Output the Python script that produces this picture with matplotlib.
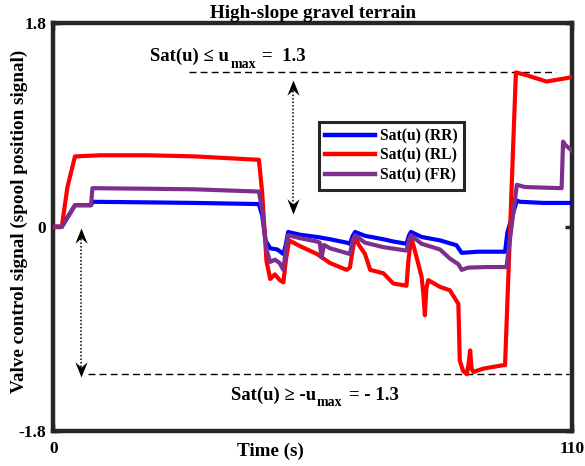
import matplotlib
matplotlib.use("Agg")
import matplotlib.pyplot as plt
from matplotlib.path import Path

plt.rcParams['font.family'] = ['Liberation Serif', 'DejaVu Serif']
plt.rcParams['font.weight'] = 'bold'

# ---------------- data ----------------
t_rr = [0, 1.8, 4.6, 8.0, 8.3, 20, 30, 43.6, 44.3, 45.0, 46.0, 47.5, 48.8, 49.3, 49.8,
        52.3, 55.9, 58.7, 62.2, 62.9, 63.5, 64.0, 66.1, 70.0, 72.1, 74.9, 75.4, 75.85,
        78.1, 82.0, 85.5, 86.6, 90, 95.8, 96.3, 98.3, 99, 104, 110]
v_rr = [0, 0, 0.19, 0.19, 0.22, 0.215, 0.21, 0.20, 0.10, -0.12, -0.19, -0.20, -0.24, -0.16, -0.046,
        -0.07, -0.09, -0.11, -0.14, -0.15, -0.08, -0.046, -0.08, -0.11, -0.13, -0.15, -0.08, -0.046,
        -0.09, -0.12, -0.163, -0.23, -0.22, -0.22, -0.05, 0.23, 0.22, 0.21, 0.21]

t_rl = [0, 1.8, 3.0, 4.6, 10, 20, 30, 43.6, 44.3, 45.2, 46.0, 47.0, 48.0, 48.8, 49.3, 50.0,
        52.3, 55.9, 58.7, 62.2, 62.9, 63.5, 64.0, 64.8, 66.1, 67.2, 70.0, 72.1, 74.9, 75.3,
        75.9, 77.05, 78.1, 78.5, 78.8, 79.1, 79.5, 82.0, 84.1, 85.9, 86.2, 86.9, 87.7, 88.1,
        88.4, 88.7, 89.1, 91.2, 95.4, 95.8, 98.1, 100, 104.6, 108.9, 110]
v_rl = [0, 0, 0.35, 0.62, 0.63, 0.63, 0.62, 0.59, 0.30, -0.30, -0.46, -0.42, -0.47, -0.49, -0.30, -0.12,
        -0.17, -0.24, -0.32, -0.38, -0.36, -0.20, -0.09, -0.16, -0.24, -0.38, -0.41, -0.50, -0.52, -0.30,
        -0.09, -0.27, -0.44, -0.60, -0.78, -0.55, -0.47, -0.53, -0.56, -0.68, -1.18, -1.27, -1.30, -1.20,
        -1.09, -1.25, -1.28, -1.25, -1.22, -1.22, 1.36, 1.34, 1.28, 1.31, 1.32]

t_fr = [0, 1.8, 4.6, 8.0, 8.3, 20, 30, 43.6, 44.3, 45.2, 46.0, 47.0, 48.0, 48.8, 49.3, 49.8,
        52.3, 55.9, 56.5, 56.9, 57.4, 58.7, 62.9, 63.5, 64.0, 66.1, 70.0, 74.9, 75.4, 75.85,
        78.1, 82.0, 84.1, 85.9, 86.6, 88, 92, 96.1, 98.3, 100, 107.8, 108.1, 108.6, 110]
v_fr = [0, 0, 0.19, 0.19, 0.34, 0.335, 0.33, 0.31, 0.15, -0.20, -0.31, -0.29, -0.32, -0.38, -0.20, -0.075,
        -0.10, -0.13, -0.14, -0.27, -0.16, -0.19, -0.24, -0.12, -0.075, -0.14, -0.18, -0.21, -0.12, -0.075,
        -0.15, -0.20, -0.28, -0.33, -0.38, -0.36, -0.355, -0.355, 0.37, 0.35, 0.34, 0.75, 0.72, 0.67]

series_labels = ['Sat(u) (RR)', 'Sat(u) (RL)', 'Sat(u) (FR)']
series_colors = ['#0000FF', '#FF0000', '#7E2F8E']

u_max_upper = 1.366
u_max_lower = -1.30
upper_line_t = [28.8, 106.5]
lower_line_t = [7.4, 109.3]
upper_arrow = (50.8, 0.11, 1.29)    # t, from, to
lower_arrow = (5.8, -0.013, -1.32)

upper_text = ['Sat(u) ≤ u', 'max', '=  1.3']
lower_text = ['Sat(u) ≥ -u', 'max', '= - 1.3']

x_ticks = [0, 110]
y_ticks = [-1.8, 0, 1.8]

# ---------------- figure ----------------
fig = plt.figure(figsize=(5.85, 4.66), dpi=100)
ax = fig.add_axes([0.0911, 0.0751, 0.8867, 0.8766])

ax.plot(t_rr, v_rr, color=series_colors[0], lw=3.0, label=series_labels[0], zorder=3)
ax.plot(t_rl, v_rl, color=series_colors[1], lw=3.0, label=series_labels[1], zorder=3)
ax.plot(t_fr, v_fr, color=series_colors[2], lw=3.0, label=series_labels[2], zorder=3)

# saturation lines
ax.plot(upper_line_t, [u_max_upper, u_max_upper], color='black', lw=1.0, dashes=(5, 3), zorder=2)
ax.plot(lower_line_t, [u_max_lower, u_max_lower], color='black', lw=1.0, dashes=(5, 3), zorder=2)

# double arrows (dotted shafts, notched heads)
up_head = Path([(0, 0), (-0.4, -1), (0, -0.65), (0.4, -1), (0, 0)],
               [Path.MOVETO, Path.LINETO, Path.LINETO, Path.LINETO, Path.CLOSEPOLY])
down_head = Path([(0, 0), (-0.4, 1), (0, 0.65), (0.4, 1), (0, 0)],
                 [Path.MOVETO, Path.LINETO, Path.LINETO, Path.LINETO, Path.CLOSEPOLY])
for (xa, y0, y1) in [upper_arrow, lower_arrow]:
    lo, hi = min(y0, y1), max(y0, y1)
    ax.plot([xa, xa], [lo + 0.08, hi - 0.08], color='black', lw=1.1,
            linestyle=(0, (1, 1.3)), zorder=2)
    ax.plot([xa], [hi], marker=up_head, markersize=22, color='black', mew=0, zorder=4)
    ax.plot([xa], [lo], marker=down_head, markersize=22, color='black', mew=0, zorder=4)

ax.set_xlim(0, 110)
ax.set_ylim(-1.8, 1.8)

renderer = fig.canvas.get_renderer()


def piecewise_text(x, y, parts, main_size=13.5, sub_size=10.0, sub_drop=4.8, gaps=(1.0, 4.5)):
    """Main text, lowered subscript, then trailing text, placed side by side."""
    t1 = ax.text(x, y, parts[0], fontsize=main_size, fontweight='bold',
                 ha='left', va='baseline')
    w1 = t1.get_window_extent(renderer).width * 72.0 / fig.dpi
    t2 = ax.annotate(parts[1], xy=(x, y), xycoords='data',
                     xytext=(w1 + gaps[0], -sub_drop), textcoords='offset points',
                     fontsize=sub_size, fontweight='bold', ha='left', va='baseline')
    w2 = t2.get_window_extent(renderer).width * 72.0 / fig.dpi
    ax.annotate(parts[2], xy=(x, y), xycoords='data',
                xytext=(w1 + gaps[0] + w2 + gaps[1], 0), textcoords='offset points',
                fontsize=main_size, fontweight='bold', ha='left', va='baseline')


piecewise_text(20.5, 1.458, upper_text)
piecewise_text(37.6, -1.525, lower_text)

ax.set_xticks(x_ticks)
ax.set_xticklabels([str(v) for v in x_ticks])
ax.set_yticks(y_ticks)
ax.set_yticklabels(['-1.8', '0', '1.8'])
ax.tick_params(axis='both', direction='in', length=5, width=2.5, colors='#262626',
               labelsize=12.5, top=True, right=True)
ax.tick_params(axis='x', pad=7)
ax.tick_params(axis='y', pad=5)
for lab in ax.get_xticklabels() + ax.get_yticklabels():
    lab.set_fontweight('bold')
    lab.set_color('black')
for sp in ax.spines.values():
    sp.set_linewidth(3.2)
    sp.set_color('#262626')

ax.set_xlabel('Time (s)', fontsize=13.75, fontweight='bold')
ax.xaxis.set_label_coords(0.418, -0.029)
ax.set_ylabel('Valve control signal (spool position signal)', fontsize=13.75, fontweight='bold')
ax.yaxis.set_label_coords(-0.049, 0.514)

ax.text(0.5, 1.012, 'High-slope gravel terrain', transform=ax.transAxes, fontsize=13.75,
        fontweight='bold', ha='center', va='baseline')

leg = ax.legend(loc='upper left', bbox_to_anchor=(0.512, 0.756), borderaxespad=0,
                handlelength=3.2, handletextpad=0.3, labelspacing=0.22,
                borderpad=0.4, fancybox=False, framealpha=1,
                prop={'weight': 'bold', 'size': 11.25})
leg.get_frame().set_edgecolor('#262626')
leg.get_frame().set_linewidth(2.2)
for line in leg.get_lines():
    line.set_linewidth(3.2)

fig.savefig('out.png', dpi=100)
